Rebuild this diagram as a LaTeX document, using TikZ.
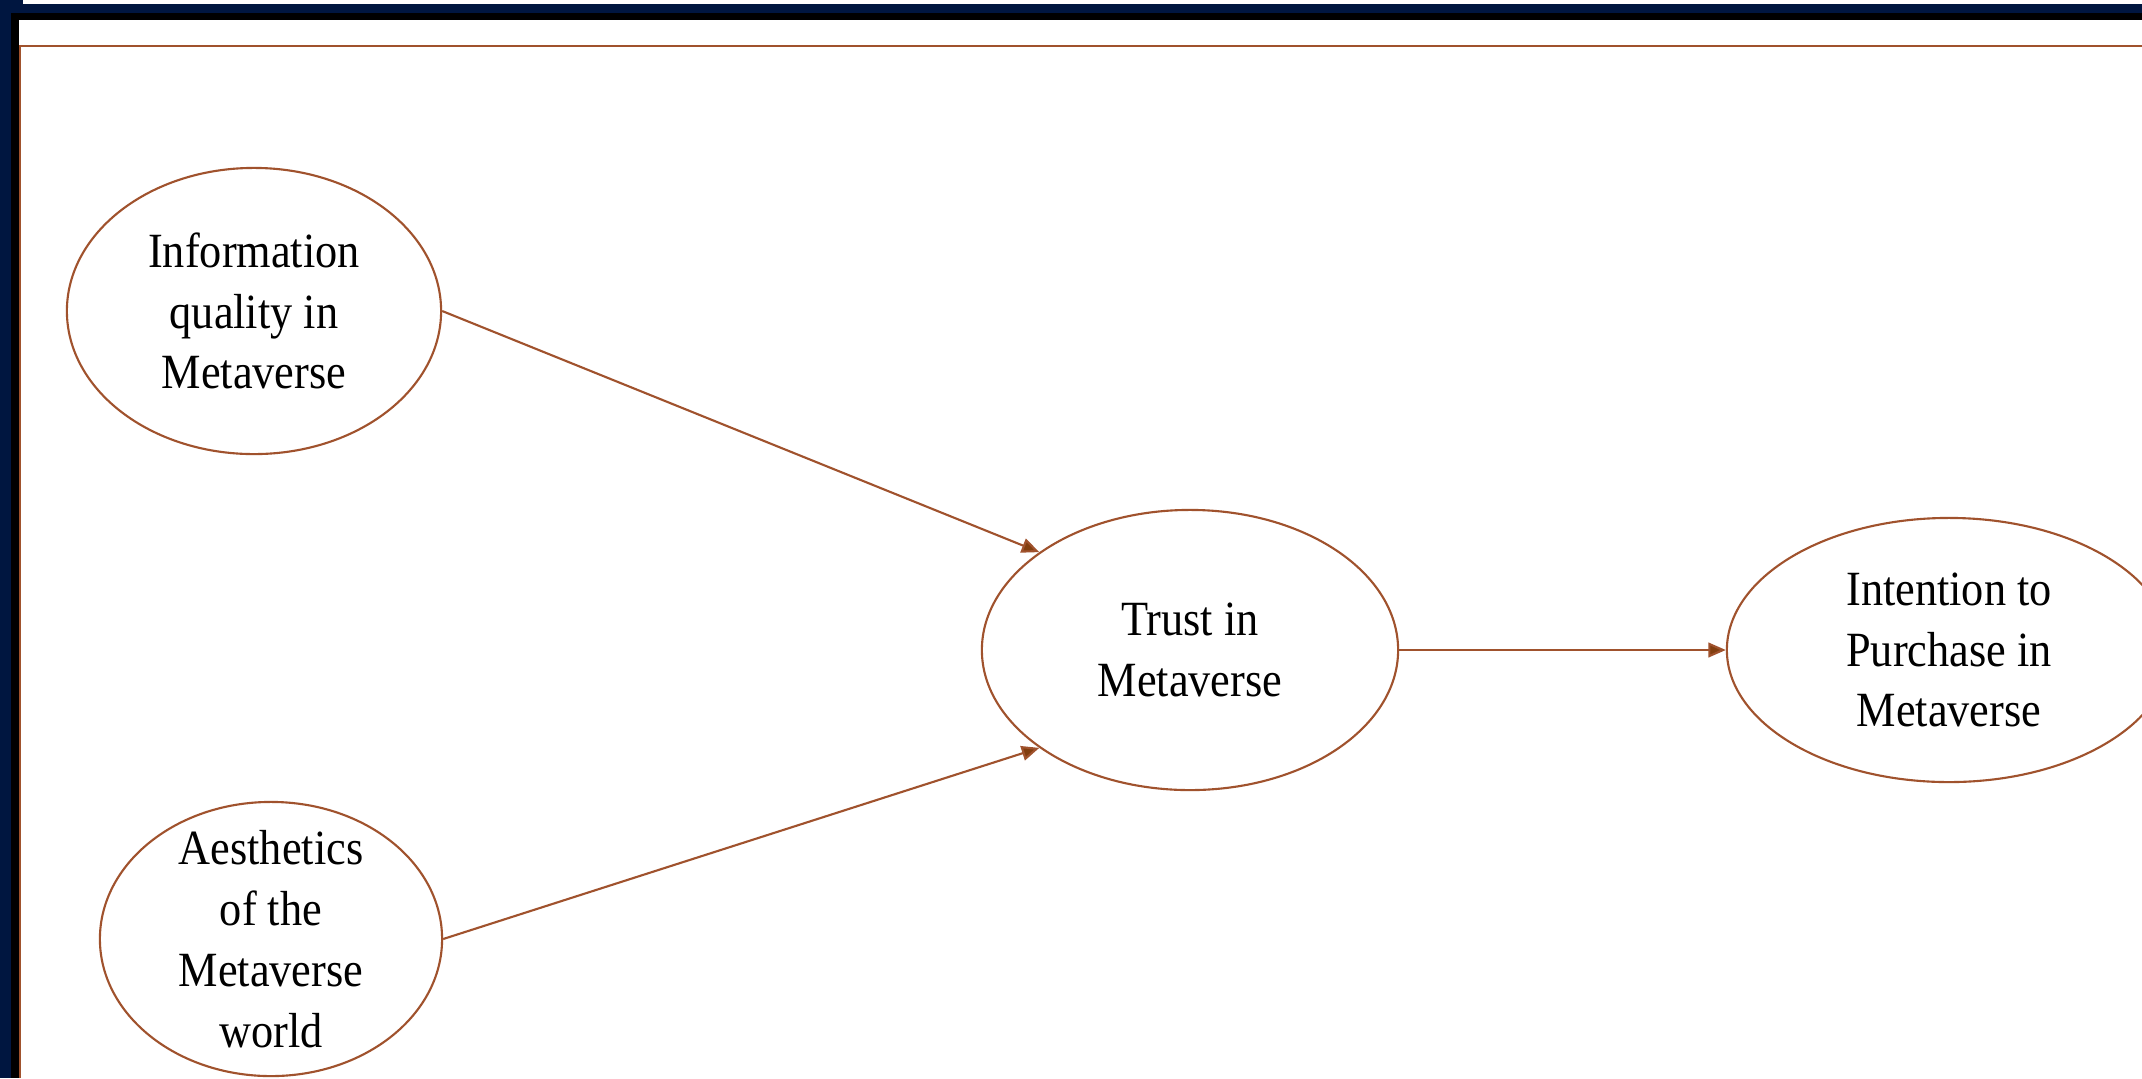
\documentclass[tikz,border=0pt]{standalone}
\usepackage{fontspec}
\setmainfont{Liberation Serif}[FakeStretch=0.9]
\usepackage{tikz}
\usetikzlibrary{shapes.geometric, arrows.meta, positioning}
\definecolor{frameNavy}{RGB}{0, 22, 64}
\definecolor{lineBrown}{RGB}{160, 82, 45}
\definecolor{tipBrown}{RGB}{130, 62, 15}
\tikzstyle{arrow} = [line width=0.6pt, draw=lineBrown, -{Triangle[length=5pt, width=4.2pt, fill=tipBrown]}]
\tikzstyle{construct} = [ellipse, draw=lineBrown, line width=0.6pt, fill=white, inner sep=0pt, align=center, text=black, font=\fontsize{14}{17.3}\selectfont]

\begin{document}
\begin{tikzpicture}[x=0.01cm, y=-0.01cm]

\useasboundingbox (0,0) rectangle (2142,1078);
\clip (0,0) rectangle (2142,1078);
\fill[white] (0,0) rectangle (2142,1078);

% outer window frame
\fill[frameNavy] (0,0) rectangle (23,4);
\fill[frameNavy] (0,4) rectangle (2142,13);
\fill[frameNavy] (0,4) rectangle (11,1078);
\fill[black] (11,13) rectangle (2142,20);
\fill[black] (11,13) rectangle (19,1078);
\draw[lineBrown, line width=0.8pt] (20,1078) -- (20,46) -- (2142,46);

\node (info) [construct, minimum width=3.74cm, minimum height=2.86cm] at (254,311) {Information\\quality in\\Metaverse};
\node (aesth) [construct, inner ysep=-9pt, minimum width=3.42cm, minimum height=2.74cm] at (271,939) {Aesthetics\\of the\\Metaverse\\world};
\node (trust) [construct, minimum width=4.16cm, minimum height=2.80cm] at (1190,650) {Trust in\\Metaverse};
\node (intent) [construct, minimum width=4.44cm, minimum height=2.64cm] at (1949,650) {Intention to\\Purchase in\\Metaverse};

\draw [arrow] (info.east) -- (trust.147);
\draw [arrow] (aesth.east) -- (trust.213);
\draw [arrow] (trust.east) -- (intent.west);

\end{tikzpicture}
\end{document}
